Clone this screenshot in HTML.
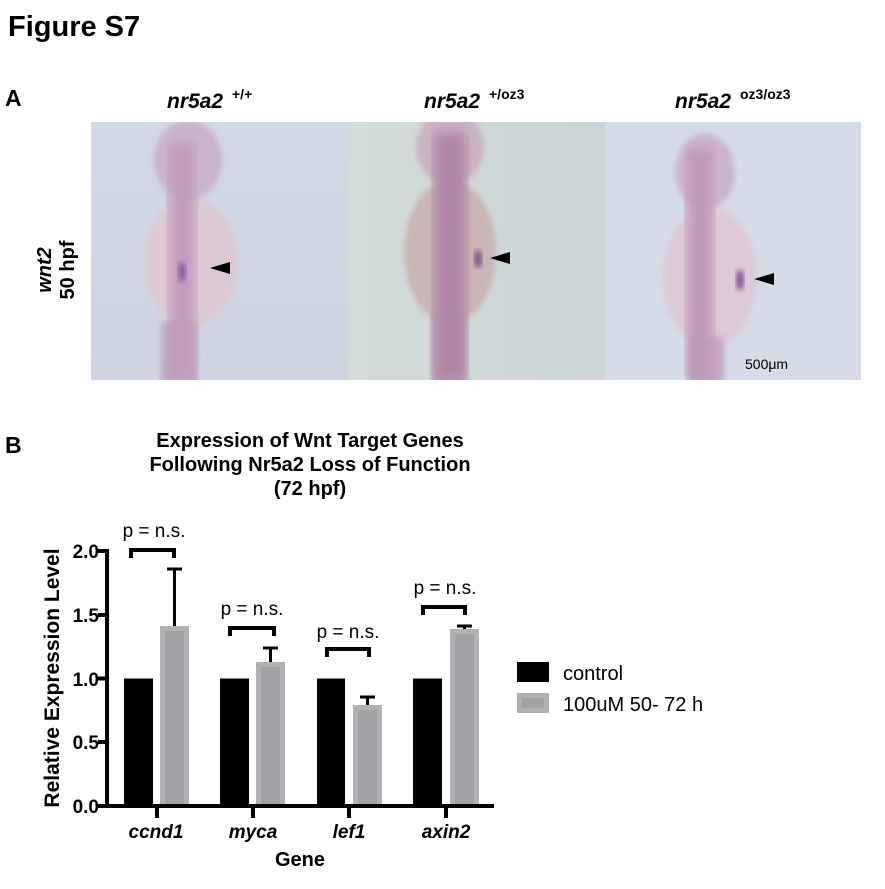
<!DOCTYPE html>
<html><head><meta charset="utf-8"><style>
body{margin:0;background:#fff;width:885px;height:889px;overflow:hidden}
svg{display:block}
text{font-family:"Liberation Sans",Arial,sans-serif}
</style></head><body>
<svg width="885" height="889" viewBox="0 0 885 889">
<defs>
<filter id="b4"><feGaussianBlur stdDeviation="6"/></filter>
<filter id="b2"><feGaussianBlur stdDeviation="3"/></filter>
<linearGradient id="bg1" x1="0" x2="0" y1="0" y2="1"><stop offset="0" stop-color="#d3d8e6"/><stop offset="1" stop-color="#cdd3e0"/></linearGradient>
<linearGradient id="bg2" x1="0" x2="1" y1="0" y2="0"><stop offset="0" stop-color="#d4dcda"/><stop offset="1" stop-color="#cbd4d6"/></linearGradient>
</defs>
<text x="8" y="36" font-size="29" font-weight="bold">Figure S7</text>
<text x="5" y="106" font-size="23" font-weight="bold">A</text>
<text x="167" y="108" font-size="21" font-weight="bold" font-style="italic">nr5a2</text><text x="232" y="99" font-size="14" font-weight="bold">+/+</text>
<text x="424" y="108" font-size="21" font-weight="bold" font-style="italic">nr5a2</text><text x="489" y="99" font-size="14" font-weight="bold">+/oz3</text>
<text x="675" y="108" font-size="21" font-weight="bold" font-style="italic">nr5a2</text><text x="740" y="99" font-size="14" font-weight="bold">oz3/oz3</text>
<text transform="translate(51,270) rotate(-90)" font-size="20" font-weight="bold" text-anchor="middle" font-style="italic">wnt2</text>
<text transform="translate(74,270) rotate(-90)" font-size="20" font-weight="bold" text-anchor="middle">50 hpf</text>
<rect x="91" y="122" width="257" height="258" fill="url(#bg1)"/>
<rect x="348" y="122" width="257" height="258" fill="url(#bg2)"/>
<rect x="605" y="122" width="256" height="258" fill="#d6dbe8"/>
<svg x="91" y="122" width="257" height="258" overflow="hidden">
 <ellipse cx="100" cy="140" rx="47" ry="66" fill="#dcc8d4" filter="url(#b2)"/>
 <ellipse cx="97" cy="38" rx="34" ry="40" fill="#cbb3cc" filter="url(#b2)"/>
 <rect x="70" y="200" width="36" height="70" fill="#c4a8c4" filter="url(#b2)"/>
 <rect x="78" y="20" width="26" height="240" fill="#c09cbd" filter="url(#b4)"/>
 <ellipse cx="91" cy="150" rx="4" ry="10" fill="#8a5a96" filter="url(#b2)"/>
 <polygon points="119,146 139,140 139,152" fill="#000"/>
</svg>
<svg x="348" y="122" width="257" height="258" overflow="hidden">
 <ellipse cx="102" cy="130" rx="46" ry="72" fill="#c9b5b6" filter="url(#b2)"/>
 <ellipse cx="102" cy="25" rx="34" ry="38" fill="#cab2c3" filter="url(#b2)"/>
 <rect x="84" y="190" width="34" height="80" fill="#c2a4bd" filter="url(#b2)"/>
 <rect x="86" y="10" width="32" height="250" fill="#ae86a6" filter="url(#b4)"/>
 <ellipse cx="130" cy="137" rx="4" ry="9" fill="#7a5088" filter="url(#b2)"/>
 <polygon points="142,136 162,130 162,142" fill="#000"/>
</svg>
<svg x="605" y="122" width="256" height="258" overflow="hidden">
 <ellipse cx="105" cy="155" rx="47" ry="70" fill="#dcc8d6" filter="url(#b2)"/>
 <ellipse cx="100" cy="50" rx="30" ry="38" fill="#ccb3cd" filter="url(#b2)"/>
 <rect x="85" y="215" width="34" height="60" fill="#c6a8c6" filter="url(#b2)"/>
 <rect x="82" y="25" width="26" height="240" fill="#bd99bb" filter="url(#b4)"/>
 <ellipse cx="135" cy="158" rx="4" ry="10" fill="#7a4a90" filter="url(#b2)"/>
 <polygon points="149,157 169,151 169,163" fill="#000"/>
 <text x="140" y="247" font-size="14">500μm</text>
</svg>
<text x="5" y="453" font-size="23" font-weight="bold">B</text>
<g font-size="20" font-weight="bold" text-anchor="middle">
<text x="310" y="447">Expression of Wnt Target Genes</text>
<text x="310" y="471">Following Nr5a2 Loss of Function</text>
<text x="310" y="495">(72 hpf)</text>
</g>
<g fill="#000">
<rect x="124" y="678.5" width="29" height="127.5"/>
<rect x="220" y="678.5" width="29" height="127.5"/>
<rect x="317" y="678.5" width="28" height="127.5"/>
<rect x="413" y="678.5" width="29" height="127.5"/>
</g>
<g fill="#b1b1b3">
<rect x="160" y="626" width="29" height="180"/>
<rect x="256" y="662" width="29" height="144"/>
<rect x="353" y="705" width="29" height="101"/>
<rect x="450" y="629" width="29" height="177"/>
</g>
<g fill="#a2a2a6">
<rect x="165" y="631" width="19" height="175"/>
<rect x="261" y="667" width="19" height="139"/>
<rect x="358" y="710" width="19" height="96"/>
<rect x="455" y="634" width="19" height="172"/>
</g>
<g stroke="#000" stroke-width="3" fill="none">
<path d="M174.5 626V569M167 569h15"/>
<path d="M270.5 662V648M263 648h15"/>
<path d="M367.5 705V697M360 697h15"/>
<path d="M464.5 629V626M457 626h15"/>
</g>
<g stroke="#000" stroke-width="4" fill="none">
<path d="M131 558V550H174V558"/>
<path d="M230 636V628H274V636"/>
<path d="M327 657V649H369V657"/>
<path d="M423 615V607H465V615"/>
</g>
<g font-size="19" text-anchor="middle">
<text x="154" y="537">p = n.s.</text>
<text x="252" y="615">p = n.s.</text>
<text x="348" y="638">p = n.s.</text>
<text x="445" y="594">p = n.s.</text>
</g>
<g stroke="#000" stroke-width="4" fill="none">
<path d="M107 549V808M105 806H494"/>
<path d="M98 551h9M98 615h9M98 678.5h9M98 742h9M98 806h9"/>
<path d="M157 806v12M253 806v12M349 806v12M446 806v12"/>
</g>
<g font-size="19" font-weight="bold" text-anchor="end">
<text x="99" y="558">2.0</text>
<text x="99" y="622">1.5</text>
<text x="99" y="686">1.0</text>
<text x="99" y="749">0.5</text>
<text x="99" y="813">0.0</text>
</g>
<g font-size="19" font-weight="bold" font-style="italic" text-anchor="middle">
<text x="156" y="838">ccnd1</text>
<text x="253" y="838">myca</text>
<text x="349" y="838">lef1</text>
<text x="446" y="838">axin2</text>
</g>
<text x="300" y="866" font-size="20" font-weight="bold" text-anchor="middle">Gene</text>
<text transform="translate(59,678) rotate(-90)" font-size="21" font-weight="bold" text-anchor="middle">Relative Expression Level</text>
<rect x="517" y="662" width="32" height="20" fill="#000"/>
<rect x="517" y="693" width="32" height="20" fill="#b1b1b3"/>
<rect x="522" y="698" width="22" height="10" fill="#a2a2a6"/>
<text x="563" y="680" font-size="20">control</text>
<text x="563" y="711" font-size="20">100uM 50- 72 h</text>
</svg>
</body></html>
